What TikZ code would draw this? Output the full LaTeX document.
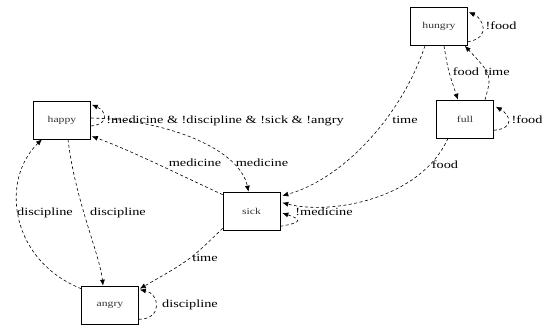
\documentclass[tikz,border=0pt]{standalone}
\usepackage{fontspec}
\setmainfont[FakeStretch=1.3]{Liberation Serif}
\usetikzlibrary{arrows.meta}
\tikzset{
  state/.style={draw, line width=0.6pt, rectangle, minimum width=57pt, minimum height=38pt, inner sep=0pt, font=\fontsize{9}{9}\selectfont, text=black!80},
  edge/.style={line width=0.6pt, dash pattern=on 3pt off 2.5pt, -{Latex[length=6pt,width=5pt]}},
  lbl/.style={font=\fontsize{11}{11}\selectfont, inner sep=0pt}
}
\begin{document}
\begin{tikzpicture}[x=1pt,y=-1pt]
\useasboundingbox (0,0) rectangle (542,326);
\node[state] (happy) at (62,120) {happy};
\node[state] (hungry) at (439,26.5) {hungry};
\node[state] (full) at (465,119) {full};
\node[state] (sick) at (251.5,211) {sick};
\node[state] (angry) at (110,305) {angry};

% happy loop
\draw[edge] ([yshift=-6pt]happy.east) .. controls +(20,-2) and +(14,6) .. ([yshift=-4pt,xshift=1pt]happy.north east);
\node[lbl] (l1) at (225,121) {!medicine \& !discipline \& !sick \& !angry};
% happy -> sick
\draw[edge] ([yshift=2pt]happy.east) .. controls (170,120) and (240,150) .. ([xshift=-3pt]sick.north);
\node[lbl] (l2) at (262,163) {medicine};
% sick -> happy
\draw[edge] ([yshift=-3pt]sick.north west) .. controls (180,175) and (130,150) .. ([yshift=3pt,xshift=1pt]happy.south east);
\node[lbl] (l3) at (195,163) {medicine};
% angry -> happy
\draw[edge] ([yshift=-3pt]angry.north west) .. controls (10,260) and (0,180) .. ([xshift=-20pt]happy.south);
\node[lbl] (l4) at (45,213) {discipline};
% happy -> angry
\draw[edge] ([xshift=6pt]happy.south) .. controls (75,200) and (100,255) .. ([xshift=-7pt]angry.north);
\node[lbl] (l5) at (118,213) {discipline};
% sick -> angry
\draw[edge] ([yshift=2pt]sick.south west) .. controls (190,260) .. ([yshift=-3pt,xshift=1pt]angry.north east);
\node[lbl] (l6) at (205,258) {time};
% angry loop
\draw[edge] ([yshift=5pt]angry.south east) .. controls +(24,0) and +(20,4) .. ([yshift=-4pt,xshift=1pt]angry.north east);
\node[lbl] (l7) at (190,305) {discipline};
% sick loop
\draw[edge] ([yshift=4pt]sick.south east) .. controls +(24,-4) and +(18,6) .. ([yshift=-2pt,xshift=2pt]sick.east);
\node[lbl] (l8) at (324,212) {!medicine};
% hungry -> sick
\draw[edge] ([xshift=-14pt]hungry.south) .. controls (400,120) and (340,180) .. ([yshift=-4pt,xshift=2pt]sick.north east);
\node[lbl] (l9) at (405,120) {time};
% full -> sick
\draw[edge] ([xshift=-17pt]full.south) .. controls (420,200) and (330,215) .. ([yshift=-11pt,xshift=2pt]sick.north east);
\node[lbl] (l10) at (445,165) {food};
% hungry -> full
\draw[edge] ([xshift=5pt]hungry.south) .. controls (448,70) .. ([xshift=-7pt]full.north);
\node[lbl] (l11) at (466,72) {food};
% full -> hungry
\draw[edge] ([xshift=20pt]full.north) .. controls (492,75) .. ([xshift=-3pt]hungry.south east);
\node[lbl] (l12) at (497,72) {time};
% hungry loop
\draw[edge] ([yshift=4pt]hungry.south east) .. controls +(24,-4) and +(14,6) .. ([yshift=-5pt,xshift=1pt]hungry.north east);
\node[lbl] (l13) at (501,26) {!food};
% full loop
\draw[edge] ([yshift=8pt]full.south east) .. controls +(22,-2) and +(14,8) .. ([yshift=-7pt,xshift=2pt]full.north east);
\node[lbl] (l14) at (527,120) {!food};
\end{tikzpicture}
\end{document}
